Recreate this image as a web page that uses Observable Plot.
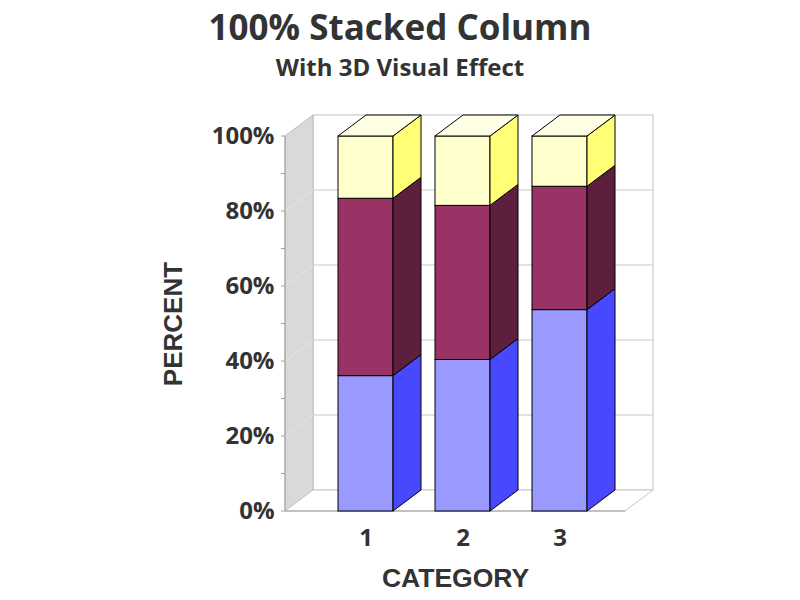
<!DOCTYPE html>
<html>
<head>
<meta charset="utf-8">
<script src="https://cdn.jsdelivr.net/npm/d3@7"></script>
<script src="https://cdn.jsdelivr.net/npm/@observablehq/plot@0.6"></script>
<style>
  html, body { margin: 0; padding: 0; background: #fff; }
  #wrap { position: relative; width: 800px; height: 600px; overflow: hidden; }
  .t { position: absolute; left: 0; width: 800px; text-align: center; font-family: "Open Sans", sans-serif; font-weight: bold; color: #333; line-height: 1; white-space: nowrap; }
  #title { top: 9px; font-size: 35px; }
  #subtitle { top: 55px; font-size: 24px; }
  #chart { position: absolute; top: 90px; left: 0; }
</style>
</head>
<body>
<div id="wrap">
  <div class="t" id="title">100% Stacked Column</div>
  <div class="t" id="subtitle">With 3D Visual Effect</div>
  <div id="chart"></div>
</div>
<script>
// ---- data ----
const categories = ["1", "2", "3"];
const groups = ["Group 1", "Group 2", "Group 3"];
const group1Values = [36.1, 40.4, 53.7];
const group2Values = [47.3, 41.1, 32.9];
const group3Values = [16.6, 18.5, 13.4];
const yTicks = [0, 20, 40, 60, 80, 100];
const yMinorTicks = [0, 10, 20, 30, 40, 50, 60, 70, 80, 90, 100];
const xLabel = "CATEGORY";
const yLabel = "PERCENT";

// ---- styles ----
const frontColors = ["#9999FF", "#993366", "#FFFFCC"];
const sideColors = ["#4848FF", "#5C1F3E", "#FFFF77"];
const topColor = "#FFFFE6";
const DX = 28, DY = -21;           // 3D depth offset in pixels
const tickFont = "'Open Sans', sans-serif";
const labelFont = "'Liberation Sans', Arial, sans-serif";

const seriesValues = [group1Values, group2Values, group3Values];
const table = [];
categories.forEach((c, i) => {
  groups.forEach((g, j) => table.push({category: c, group: g, value: seriesValues[j][i]}));
});

function walls(index, scales, values, dims) {
  const {width, marginLeft, marginRight} = dims;
  const y = scales.y;
  const x0 = marginLeft, x1 = width - marginRight;
  const yTop = y(100), yBot = y(0);
  const g = d3.create("svg:g");
  const poly = pts => pts.map(p => p.join(",")).join(" ");
  // back wall
  g.append("rect")
    .attr("x", x0 + DX).attr("y", yTop + DY)
    .attr("width", x1 - x0).attr("height", yBot - yTop)
    .attr("fill", "#fff").attr("stroke", "#BFBFBF");
  // back gridlines
  for (const v of yTicks) {
    if (v === 0 || v === 100) continue;
    g.append("line")
      .attr("x1", x0 + DX).attr("x2", x1 + DX)
      .attr("y1", y(v) + DY).attr("y2", y(v) + DY)
      .attr("stroke", "#C8C8C8");
  }
  // left wall
  g.append("polygon")
    .attr("points", poly([[x0, yTop], [x0 + DX, yTop + DY], [x0 + DX, yBot + DY], [x0, yBot]]))
    .attr("fill", "#D9D9D9").attr("stroke", "#BDBDBD");
  for (const v of yTicks) {
    if (v === 0 || v === 100) continue;
    g.append("line")
      .attr("x1", x0).attr("x2", x0 + DX)
      .attr("y1", y(v)).attr("y2", y(v) + DY)
      .attr("stroke", "#E6E6E6");
  }
  // floor
  g.append("polygon")
    .attr("points", poly([[x0, yBot], [x1, yBot], [x1 + DX, yBot + DY], [x0 + DX, yBot + DY]]))
    .attr("fill", "#fff").attr("stroke", "#C4C4C4");
  // front axis line and floor front edge
  g.append("line").attr("x1", x0).attr("x2", x0).attr("y1", yTop).attr("y2", yBot).attr("stroke", "#A0A0A0");
  g.append("line").attr("x1", x0).attr("x2", x1).attr("y1", yBot).attr("y2", yBot).attr("stroke", "#A0A0A0");
  // ticks
  for (const v of yMinorTicks) {
    g.append("line").attr("x1", x0 - 4).attr("x2", x0).attr("y1", y(v)).attr("y2", y(v)).attr("stroke", "#A0A0A0");
  }
  return g.node();
}

function sides(index, scales) {
  const {x, y} = scales;
  const bw = x.bandwidth();
  const g = d3.create("svg:g").attr("stroke", "#000").attr("stroke-width", 1).attr("stroke-linejoin", "round");
  const poly = pts => pts.map(p => p.join(",")).join(" ");
  categories.forEach((c, i) => {
    const xl = x(c), xr = x(c) + bw;
    let lo = 0;
    seriesValues.forEach((vals, j) => {
      const hi = lo + vals[i];
      g.append("polygon")
        .attr("points", poly([[xr, y(lo)], [xr + DX, y(lo) + DY], [xr + DX, y(hi) + DY], [xr, y(hi)]]))
        .attr("fill", sideColors[j]);
      lo = hi;
    });
    g.append("polygon")
      .attr("points", poly([[xl, y(lo)], [xr, y(lo)], [xr + DX, y(lo) + DY], [xl + DX, y(lo) + DY]]))
      .attr("fill", topColor);
  });
  return g.node();
}

const chart = Plot.plot({
  width: 800,
  height: 510,
  marginLeft: 285,
  marginRight: 175,
  marginTop: 46,
  marginBottom: 89,
  style: {background: "transparent", overflow: "visible"},
  x: {domain: categories, paddingInner: 0.43, paddingOuter: 0.45, align: 0.58, axis: null},
  y: {domain: [0, 100], axis: null},
  color: {domain: groups, range: frontColors},
  marks: [
    walls,
    Plot.barY(table, {x: "category", y: "value", fill: "group", stroke: "#000", strokeWidth: 1}),
    sides,
    Plot.text(yTicks, {
      y: d => d, text: d => `${d}%`, frameAnchor: "left", dx: -11, textAnchor: "end",
      fontSize: 24, fontWeight: "bold", fontFamily: tickFont, fill: "#333"
    }),
    Plot.text(categories, {
      x: d => d, text: d => d, frameAnchor: "bottom", dy: 27, lineAnchor: "middle",
      fontSize: 24, fontWeight: "bold", fontFamily: tickFont, fill: "#333"
    }),
    Plot.text([xLabel], {
      text: d => d, frameAnchor: "bottom", dy: 67, lineAnchor: "middle",
      fontSize: 26.5, fontWeight: "bold", fontFamily: labelFont, fill: "#333"
    }),
    Plot.text([yLabel], {
      text: d => d, frameAnchor: "left", dx: -112, rotate: -90, textAnchor: "middle", lineAnchor: "middle",
      fontSize: 26, fontWeight: "bold", fontFamily: labelFont, fill: "#333"
    })
  ]
});
document.getElementById("chart").appendChild(chart);
</script>
</body>
</html>
